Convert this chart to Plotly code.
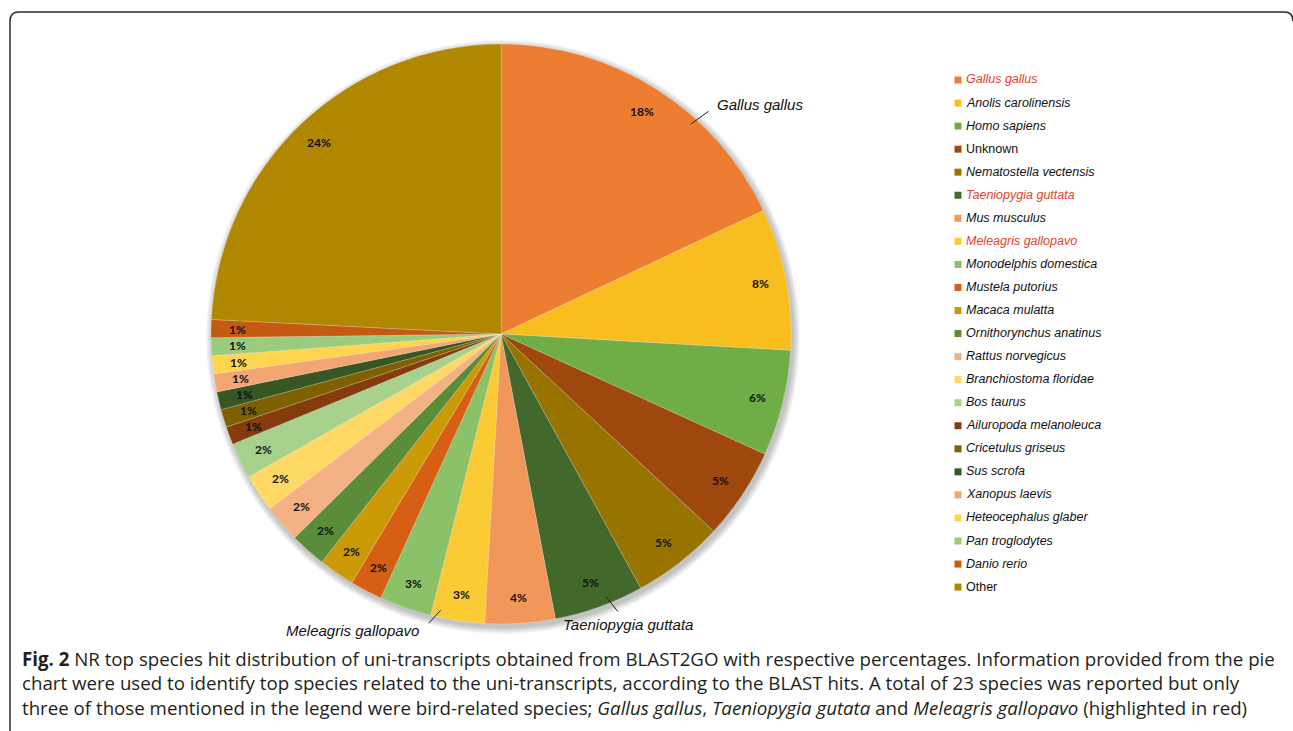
import math
import plotly.graph_objects as go

# ---------------- data ----------------
species = [
    "Gallus gallus", "Anolis carolinensis", "Homo sapiens", "Unknown",
    "Nematostella vectensis", "Taeniopygia guttata", "Mus musculus",
    "Meleagris gallopavo", "Monodelphis domestica", "Mustela putorius",
    "Macaca mulatta", "Ornithorynchus anatinus", "Rattus norvegicus",
    "Branchiostoma floridae", "Bos taurus", "Ailuropoda melanoleuca",
    "Cricetulus griseus", "Sus scrofa", "Xanopus laevis",
    "Heteocephalus glaber", "Pan troglodytes", "Danio rerio", "Other",
]
percent_values = [
    18.0, 7.9, 5.9, 5.1,
    5.1, 5.0, 3.9,
    3.0, 2.9, 1.8,
    2.0, 2.0, 2.1,
    2.1, 2.0, 1.0,
    1.0, 1.0, 1.0,
    1.0, 1.0, 1.0, 24.2,
]
slice_colors = [
    "#ED7D31", "#F8BD1F", "#70AD47", "#9E480E",
    "#997300", "#43682B", "#F1975A",
    "#FACB33", "#8BC168", "#D65F14",
    "#CC9A06", "#5B8C3A", "#F4B183",
    "#FFD966", "#A9D18E", "#843C0C",
    "#7F6000", "#375623", "#F4A672",
    "#FFD54F", "#9BCB7D", "#C55A11", "#B08700",
]
bird_species = ["Gallus gallus", "Taeniopygia guttata", "Meleagris gallopavo"]
plain_names = ["Unknown", "Other"]

caption_lines = [
    "<b>Fig. 2</b> NR top species hit distribution of uni-transcripts obtained from BLAST2GO with respective percentages. Information provided from the pie",
    "chart were used to identify top species related to the uni-transcripts, according to the BLAST hits. A total of 23 species was reported but only",
    "three of those mentioned in the legend were bird-related species; <i>Gallus gallus</i>, <i>Taeniopygia gutata</i> and <i>Meleagris gallopavo</i> (highlighted in red)",
]

# ---------------- geometry / style ----------------
W, H = 1293, 731
CX, CY, R = 501, 334, 290
RED = "#E8412C"


def px(x):
    return x / W


def py(y):
    return 1 - y / H


fig = go.Figure(
    go.Pie(
        labels=species,
        values=percent_values,
        sort=False,
        direction="clockwise",
        rotation=0,
        marker=dict(colors=slice_colors,
                    line=dict(color="rgba(255,255,255,0.35)", width=0.6)),
        textinfo="none",
        showlegend=False,
        hoverinfo="label+percent",
        domain=dict(x=[px(CX - R), px(CX + R)], y=[py(CY + R), py(CY - R)]),
    )
)

annotations = []
shapes = []

# soft shadow behind pie
for k in range(1, 8):
    rr = R + k
    shapes.append(dict(
        type="circle", xref="paper", yref="paper", layer="below",
        x0=px(CX + 2 - rr), x1=px(CX + 2 + rr),
        y0=py(CY + 3 + rr), y1=py(CY + 3 - rr),
        fillcolor="rgba(0,0,0,0.035)", line=dict(width=0),
    ))

total = sum(percent_values)
starts = []
acc = 0.0
for v in percent_values:
    starts.append(acc)
    acc += v


def point(angle_deg, r):
    a = math.radians(angle_deg)
    return CX + r * math.sin(a), CY - r * math.cos(a)


# percentage labels (inside end)
for v, s in zip(percent_values, starts):
    mid = (s + v / 2) / total * 360
    x, y = point(mid, 0.91 * R)
    annotations.append(dict(
        x=px(x), y=py(y), xref="paper", yref="paper", showarrow=False,
        text=f"<b>{round(v / total * 100)}%</b>",
        font=dict(family="Lato", size=12, color="#111111"),
        xanchor="center", yanchor="middle",
    ))

# callout labels for bird species
callouts = {
    "Gallus gallus": dict(frac=0.65, line=(18, -13), text=(24, -20), anchor="left"),
    "Taeniopygia guttata": dict(frac=0.39, line=(12, 15), text=(22, 28), anchor="center"),
    "Meleagris gallopavo": dict(frac=0.84, line=(-12, 13), text=(-20, 20), anchor="right"),
}
for name, c in callouts.items():
    i = species.index(name)
    ang = (starts[i] + c["frac"] * percent_values[i]) / total * 360
    x0, y0 = point(ang, 0.975 * R)
    x1, y1 = x0 + c["line"][0], y0 + c["line"][1]
    shapes.append(dict(type="line", xref="paper", yref="paper",
                       x0=px(x0), y0=py(y0), x1=px(x1), y1=py(y1),
                       line=dict(color="#222222", width=1)))
    annotations.append(dict(
        x=px(x0 + c["text"][0]), y=py(y0 + c["text"][1]), xref="paper", yref="paper",
        showarrow=False, text=f"<i>{name}</i>",
        font=dict(family="Liberation Sans", size=15, color="#111111"),
        xanchor=c["anchor"], yanchor="middle",
    ))

# legend (manual)
LX, LY0, LDY = 958, 80, 23.05
for i, (name, col) in enumerate(zip(species, slice_colors)):
    yc = LY0 + i * LDY
    shapes.append(dict(type="rect", xref="paper", yref="paper",
                       x0=px(LX - 3.5), x1=px(LX + 3.5), y0=py(yc + 3.5), y1=py(yc - 3.5),
                       fillcolor=col, line=dict(width=0)))
    label = name if name in plain_names else f"<i>{name}</i>"
    annotations.append(dict(
        x=px(LX + 6), y=py(yc - 0.5), xref="paper", yref="paper", showarrow=False,
        text=label, xanchor="left", yanchor="middle",
        font=dict(family="Liberation Sans", size=12.5,
                  color=RED if name in bird_species else "#111111"),
    ))

# caption
for j, line in enumerate(caption_lines):
    annotations.append(dict(
        x=px(20), y=py(658 + j * 24.5), xref="paper", yref="paper", showarrow=False,
        text=line, xanchor="left", yanchor="middle",
        font=dict(family="Open Sans", size=18.7, color="#231F20"),
    ))

# rounded frame
fx0, fy0, rad = 10, 12, 9
frame_path = (
    f"M {px(fx0)},{py(760)} L {px(fx0)},{py(fy0 + rad)} "
    f"Q {px(fx0)},{py(fy0)} {px(fx0 + rad)},{py(fy0)} "
    f"L {px(1284)},{py(fy0)} Q {px(1293)},{py(fy0)} {px(1293)},{py(fy0 + rad)}"
)
shapes.append(dict(type="path", xref="paper", yref="paper", path=frame_path,
                   line=dict(color="#2b2b2b", width=1.5)))

fig.update_layout(
    width=W, height=H,
    margin=dict(l=0, r=0, t=0, b=0),
    paper_bgcolor="white", plot_bgcolor="white",
    shapes=shapes, annotations=annotations,
    showlegend=False,
)

fig.write_html("out.html")
